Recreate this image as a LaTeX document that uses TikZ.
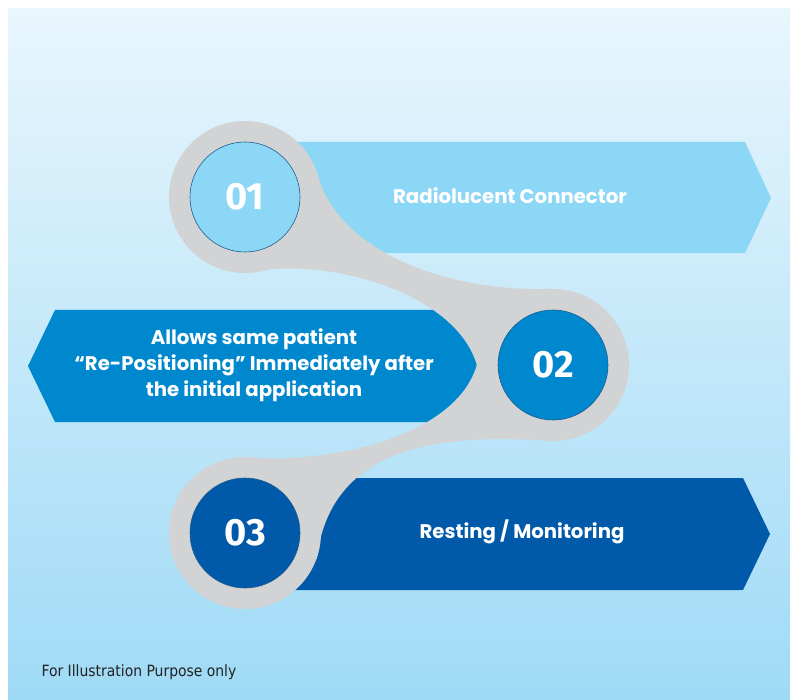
\documentclass[tikz,border=0pt]{standalone}
\usepackage{fontspec}
\setmainfont{Poppins}
\newfontfamily\numfont{Fira Sans}
\newfontfamily\notefont{DejaVu Sans Condensed}

\definecolor{bgtop}{HTML}{E8F6FD}
\definecolor{bgbottom}{HTML}{9FDAF6}
\definecolor{skyblue}{HTML}{8DD7F6}
\definecolor{midblue}{HTML}{0088CF}
\definecolor{deepblue}{HTML}{005AA9}
\definecolor{ringgrey}{HTML}{D1D3D4}
\definecolor{ringline}{HTML}{1F5C8F}
\definecolor{notegrey}{HTML}{222222}

\begin{document}
\begin{tikzpicture}[x=1pt,y=-1pt,
    ring/.style={circle,fill=ringgrey,minimum size=152pt,inner sep=0pt},
    stepcircle/.style={circle,draw=ringline,line width=0.6pt,minimum size=110pt,inner sep=0pt,
        text=white,font=\numfont\bfseries\fontsize{38}{38}\selectfont},
    bannertext/.style={text=white,font=\bfseries\fontsize{19.7}{26}\selectfont,align=center}]

    \useasboundingbox (0,0) rectangle (795,700);
    \fill [white] (0,0) rectangle (795,700);
    \fill [top color=bgtop,bottom color=bgbottom] (8,9) rectangle (790,700);

    % banners
    \fill [skyblue] (250,142) -- (745,142) -- (771,198) -- (745,253) -- (250,253) -- cycle;
    \fill [midblue] (553,310) -- (55,310) -- (28,366) -- (55,422) -- (553,422) -- cycle;
    \fill [deepblue] (250,478) -- (743,478) -- (770,534) -- (743,590) -- (250,590) -- cycle;

    % grey links
    \node [ring] (g1) at (245,197) {};
    \node [ring] (g2) at (553,365) {};
    \node [ring] (g3) at (245,533) {};
    \fill [ringgrey] (g1.20) .. controls (335,250) and (445,293) .. (g2.north)
        -- (g2.west) .. controls (455,290) and (320,255) .. (g1.south) -- cycle;
    \fill [ringgrey] (g2.south) .. controls (430,432) and (330,450) .. (g3.-20)
        -- (g3.north) .. controls (320,465) and (455,440) .. (g2.west) -- cycle;

    \node [stepcircle,fill=skyblue] (s1) at (g1) {01};
    \node [stepcircle,fill=midblue] (s2) at (g2) {02};
    \node [stepcircle,fill=deepblue] (s3) at (g3) {03};

    \node [bannertext] (t1) at (510,196) {Radiolucent Connector};
    \node [bannertext] (t2) at (254,365) {Allows same patient\\“Re-Positioning” Immediately after\\the initial application};
    \node [bannertext] (t3) at (522,532) {Resting / Monitoring};

    \node [anchor=west,text=notegrey,font=\notefont\fontsize{15.5}{17}\selectfont] (note) at (38,672) {For Illustration Purpose only};

\end{tikzpicture}
\end{document}
